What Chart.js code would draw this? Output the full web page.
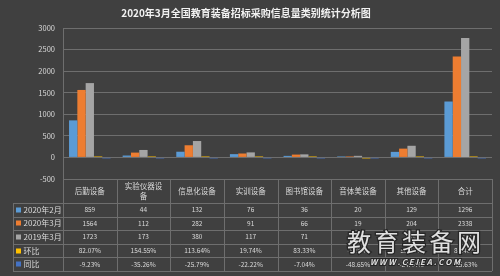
<!DOCTYPE html>
<html>
<head>
<meta charset="utf-8">
<script src="https://cdn.jsdelivr.net/npm/chart.js@4.4.0/dist/chart.umd.min.js"></script>
<style>
  html, body { margin: 0; padding: 0; background: #404040; }
  #wrap { position: relative; width: 500px; height: 276px; }
</style>
</head>
<body>
<div id="wrap"><canvas id="chart" width="500" height="276"></canvas></div>
<script>
// 数据
const categories = ['后勤设备', ['实验仪器设', '备'], '信息化设备', '实训设备', '图书馆设备', '音体美设备', '其他设备', '合计'];
const feb2020 = [859, 44, 132, 76, 36, 20, 129, 1296];
const mar2020 = [1564, 112, 282, 91, 66, 19, 204, 2338];
const mar2019 = [1723, 173, 380, 117, 71, 37, 270, 2771];
const huanbi = [0.8207, 1.5455, 1.1364, 0.1974, 0.8333, -0.05, 0.5814, 0.8040];
const tongbi = [-0.0923, -0.3526, -0.2579, -0.2222, -0.0704, -0.4865, -0.2444, -0.1563];
const seriesNames = ['2020年2月', '2020年3月', '2019年3月', '环比', '同比'];
const seriesColors = ['#5B9BD5', '#ED7D31', '#A5A5A5', '#FFC000', '#4472C4'];
const yMin = -500, yMax = 3000, yStep = 500;

const FONT = '"Noto Sans CJK SC", "Noto Sans", sans-serif';
const TEXT = '#d9d9d9';
const LINE = '#6e6e6e';

function fmt(row, v) {
  return row >= 3 ? (v * 100).toFixed(2) + '%' : String(v);
}

// 数据表 + 水印
const tablePlugin = {
  id: 'dataTable',
  afterDraw(chart) {
    const { ctx, chartArea: a, scales: { x } } = chart;
    const n = categories.length;
    const cw = (a.right - a.left) / n;
    const headTop = a.bottom;
    const headBot = a.bottom + 24;
    const rowH = 13.6;
    const leftX = 13;
    const rows = [feb2020, mar2020, mar2019, huanbi, tongbi];
    const tableBot = headBot + rowH * rows.length;
    const px = v => Math.round(v) + 0.5;

    ctx.save();
    ctx.strokeStyle = LINE;
    ctx.lineWidth = 1;
    ctx.beginPath();
    // 横线
    ctx.moveTo(a.left, px(headTop)); ctx.lineTo(a.right, px(headTop));
    for (let r = 0; r <= rows.length; r++) {
      const y = px(headBot + r * rowH);
      ctx.moveTo(leftX, y); ctx.lineTo(a.right, y);
    }
    // 竖线
    for (let i = 0; i <= n; i++) {
      const xx = px(a.left + i * cw);
      ctx.moveTo(xx, i === 0 ? a.top : headTop);
      ctx.lineTo(xx, tableBot);
    }
    ctx.moveTo(px(leftX), px(headBot)); ctx.lineTo(px(leftX), px(tableBot));
    ctx.stroke();

    ctx.fillStyle = TEXT;
    ctx.textAlign = 'center';
    ctx.textBaseline = 'middle';
    // 表头
    ctx.font = '7.5px ' + FONT;
    categories.forEach((c, i) => {
      const cx = x.getPixelForValue(i);
      const lines = Array.isArray(c) ? c : [c];
      const mid = (headTop + headBot) / 2;
      lines.forEach((t, k) => {
        ctx.fillText(t, cx, mid + (k - (lines.length - 1) / 2) * 10.5);
      });
    });
    // 数值
    ctx.font = '6.5px ' + FONT;
    rows.forEach((row, r) => {
      const cy = headBot + r * rowH + rowH / 2;
      row.forEach((v, i) => {
        ctx.fillText(fmt(r, v), x.getPixelForValue(i), cy);
      });
    });
    // 图例列
    ctx.textAlign = 'left';
    ctx.font = '8px ' + FONT;
    seriesNames.forEach((name, r) => {
      const cy = headBot + r * rowH + rowH / 2;
      ctx.fillStyle = seriesColors[r];
      ctx.fillRect(16, Math.round(cy) - 2.5, 5, 5);
      ctx.fillStyle = TEXT;
      ctx.fillText(name, 23.5, cy);
    });

    // 水印
    ctx.textAlign = 'center';
    ctx.font = '24px ' + FONT;
    ctx.lineWidth = 2.5;
    ctx.strokeStyle = '#262626';
    ctx.fillStyle = '#e0e0e0';
    '教育装备网'.split('').forEach((ch, k) => {
      const cx = 359 + k * 27.5;
      ctx.strokeText(ch, cx, 242);
      ctx.fillText(ch, cx, 242);
    });
    ctx.font = 'italic bold 8px ' + FONT;
    ctx.lineWidth = 2;
    const wm = 'W W W . C E I E A . C O M';
    ctx.strokeText(wm, 415, 262);
    ctx.fillText(wm, 415, 262);
    ctx.restore();
  }
};

const datasets = [feb2020, mar2020, mar2019, huanbi, tongbi].map((d, i) => ({
  label: seriesNames[i],
  data: d,
  backgroundColor: seriesColors[i],
  borderWidth: 0,
  minBarLength: 1
}));

new Chart(document.getElementById('chart'), {
  type: 'bar',
  data: { labels: categories, datasets },
  options: {
    responsive: false,
    animation: false,
    layout: { padding: { left: 0, right: 8, top: 0, bottom: 97 } },
    datasets: { bar: { barPercentage: 1, categoryPercentage: 0.775 } },
    plugins: {
      legend: { display: false },
      tooltip: { enabled: false },
      title: {
        display: true,
        text: '2020年3月全国教育装备招标采购信息量类别统计分析图',
        color: '#f2f2f2',
        font: { size: 10, weight: 'bold', family: FONT },
        padding: { top: 7, bottom: 9 }
      }
    },
    scales: {
      x: { display: false },
      y: {
        min: yMin,
        max: yMax,
        afterFit(scale) { scale.width = 63; },
        ticks: {
          stepSize: yStep, color: TEXT, padding: 8,
          font: { size: 7.5, family: FONT },
          callback: v => String(v)
        },
        grid: { color: LINE, drawTicks: false },
        border: { display: true, color: LINE }
      }
    }
  },
  plugins: [tablePlugin]
});
</script>
</body>
</html>
